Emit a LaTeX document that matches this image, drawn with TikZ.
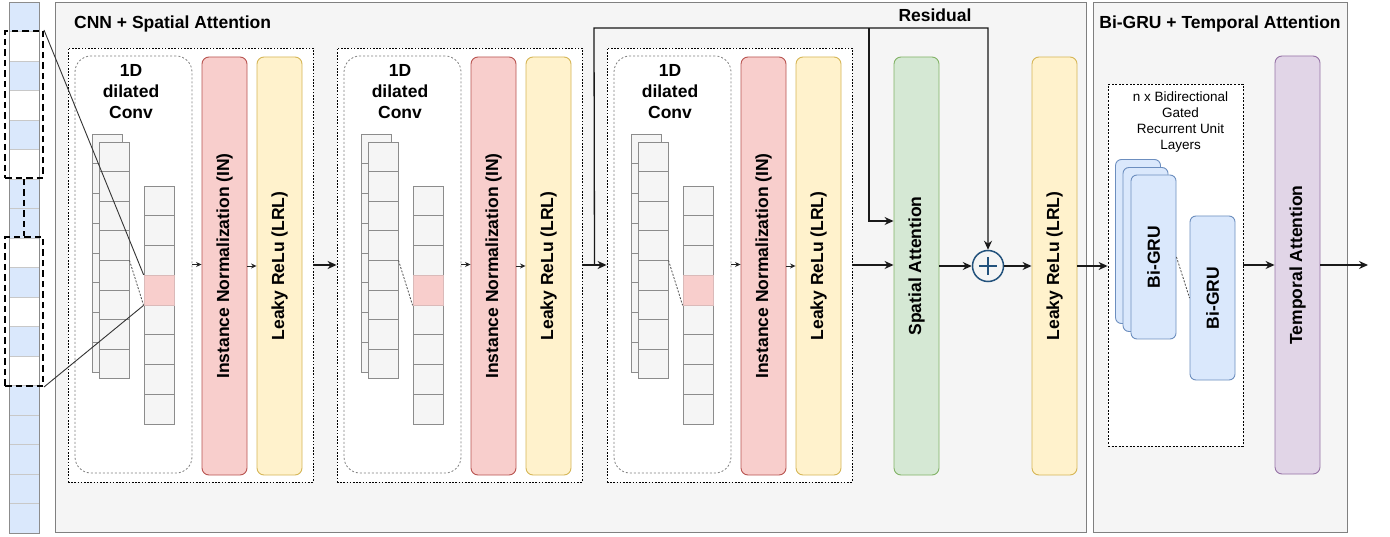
\documentclass[tikz,border=0pt]{standalone}
\usepackage{fontspec}
\setmainfont{Liberation Sans}
\usepackage{xcolor}
\usepackage{graphicx}
\usepackage{tikz}
\usetikzlibrary{positioning}
\usetikzlibrary{arrows.meta}
\usetikzlibrary{calc}

\newcommand{\boxfont}{\fontsize{17.5}{21}\selectfont\bfseries}
\newcommand{\notefont}{\fontsize{13.5}{16.2}\selectfont}

\begin{document}
\begin{tikzpicture}
    [%%%%%%%%%%%%%%%%%%%%%%%%%%%%%%
        x=1pt, y=-1pt,
        panel/.style={rectangle,draw=panelline,fill=panelgray,line width=0.9pt,inner sep=0pt},
        blockbox/.style={rectangle,draw=black,fill=white,line width=0.8pt,dash pattern=on 1.6pt off 1.6pt,inner sep=0pt},
        convbox/.style={rectangle,rounded corners=16pt,draw=gray,fill=white,line width=0.8pt,dash pattern=on 2pt off 2pt,inner sep=0pt},
        boxtext/.style={inner sep=0pt,font=\boxfont},
        layer/.style={rectangle,rounded corners=7pt,line width=0.9pt,minimum width=45pt,minimum height=418pt,inner sep=0pt,font=\boxfont},
        inbox/.style={layer,draw=inredline,fill=inred},
        lrlbox/.style={layer,draw=lrlyelline,fill=lrlyel},
        sabox/.style={layer,draw=sagreenline,fill=sagreen},
        tabox/.style={layer,draw=tapurpleline,fill=tapurple},
        grulayer/.style={layer,minimum height=164pt,rounded corners=6pt,draw=grublueline,fill=grublue},
        grubox/.style={rectangle,draw=black,fill=white,line width=0.8pt,dash pattern=on 2pt off 1.6pt,inner sep=0pt},
        cell/.style={draw=cellline,fill=panelgray,line width=0.8pt},
        stripcell/.style={draw=stripdiv,line width=0.8pt},
        winbox/.style={rectangle,draw=black,line width=2pt,dash pattern=on 6.5pt off 4pt,inner sep=0pt},
        winline/.style={draw=black!80,line width=0.9pt},
        convdash/.style={draw=black!70,line width=0.8pt,dash pattern=on 2pt off 1.5pt},
        mainarrow/.style={draw=black!90,line width=1.3pt,-{Stealth[length=9pt,width=8pt]}},
        smallarrow/.style={draw=black!85,line width=0.9pt,-{Stealth[length=5.5pt,width=5pt]}},
        sumnode/.style={circle,draw=sumblue,line width=1.5pt,minimum size=31pt,inner sep=0pt}
    ]%%%%%%%%%%%%%%%%%%%%%%%%%%%%%%
\definecolor{panelgray}{HTML}{F5F5F5}
\definecolor{panelline}{HTML}{808080}
\definecolor{inred}{HTML}{F8CECC}
\definecolor{inredline}{HTML}{B85450}
\definecolor{lrlyel}{HTML}{FFF2CC}
\definecolor{lrlyelline}{HTML}{D6B656}
\definecolor{sagreen}{HTML}{D5E8D4}
\definecolor{sagreenline}{HTML}{82B366}
\definecolor{tapurple}{HTML}{E1D5E7}
\definecolor{tapurpleline}{HTML}{9673A6}
\definecolor{grublue}{HTML}{DAE8FC}
\definecolor{grublueline}{HTML}{6C8EBF}
\definecolor{stripblue}{HTML}{DAE8FC}
\definecolor{stripdiv}{HTML}{C8C8C8}
\definecolor{stripline}{HTML}{8C8C8C}
\definecolor{cellline}{HTML}{8C8C8C}
\definecolor{pinkcell}{HTML}{F8CECC}
\definecolor{sumblue}{HTML}{23527C}

\useasboundingbox (0,0) rectangle (1390,537);

% panels
\node[panel,minimum width=1031pt,minimum height=530pt] (cnnp) at (570.5,267) {};
\node[panel,minimum width=254pt,minimum height=530pt] (grup) at (1220,267) {};
\node[boxtext,anchor=west] (cnntitle) at (74,24) {CNN + Spatial Attention};
\node[boxtext] (grutitle) at (1220,24) {Bi-GRU + Temporal Attention};

% input sequence
\foreach \c [count=\k from 0] in {stripblue,white,stripblue,white,stripblue,white,stripblue,stripblue,white,stripblue,white,stripblue,white,stripblue,stripblue,stripblue,stripblue,stripblue}
   \draw[stripcell,fill=\c] (9,2+\k*29.5) rectangle ++(30,29.5);
\node[rectangle,draw=stripline,line width=0.9pt,minimum width=30pt,minimum height=531pt,inner sep=0pt] (strip) at (24,267.5) {};

% conv blocks
\foreach \b/\ox in {1/0,2/269,3/539}{
    \node[blockbox,minimum width=245pt,minimum height=434pt] (blk\b) at (190.5+\ox,265) {};
    \node[convbox,minimum width=117pt,minimum height=417pt] (conv\b) at (133.5+\ox,264.5) {};
    \node[boxtext,align=center] (ct\b) at (131+\ox,92) {1D\\dilated\\Conv};
    \foreach \k in {0,...,7}
        \draw[cell] (92+\ox,134+\k*29.75) rectangle ++(30,29.75);
    \foreach \k in {0,...,7}
        \draw[cell] (99.5+\ox,142+\k*29.6) rectangle ++(30,29.6);
    \foreach \k in {0,...,7}
        \draw[cell] (144+\ox,186+\k*29.75) rectangle ++(30,29.75);
    \node[rectangle,draw=pinkcell!75!gray,fill=pinkcell,line width=0.8pt,minimum width=30pt,minimum height=29.75pt,inner sep=0pt] (pk\b) at (159+\ox,290.1) {};
    \coordinate (fs\b) at (129.5+\ox,260.4);
    \draw[convdash] (fs\b) -- (pk\b.south west);
    \node[inbox] (in\b) at (224.5+\ox,266) {\rotatebox{90}{Instance Normalization (IN)}};
    \node[lrlbox] (lrl\b) at (279.5+\ox,266) {\rotatebox{90}{Leaky ReLu (LRL)}};
    \draw[smallarrow] (conv\b.east) -- (conv\b.east -| in\b.west);
    \draw[smallarrow] (in\b.east) -- (lrl\b.west);
}

% receptive field windows
\node[winbox,minimum width=38pt,minimum height=147pt] (win1) at (24,104.5) {};
\node[winbox,minimum width=38pt,minimum height=149pt] (win2) at (24,311.5) {};
\draw[winbox] (win1.south) -- (win2.north);
\draw[winline] (win1.north east) -- (pk1.north west);
\draw[winline] (win2.south east) -- (pk1.south west);

% spatial attention and residual
\node[sabox] (sa) at (916.5,266) {\rotatebox{90}{Spatial Attention}};
\node[sumnode] (sum) at (988,266) {};
\draw[sumblue,line width=1.5pt] ([xshift=-9pt]sum.center) -- ([xshift=9pt]sum.center);
\draw[sumblue,line width=1.5pt] ([yshift=-9pt]sum.center) -- ([yshift=9pt]sum.center);
\node[lrlbox] (lrl4) at (1054.5,266) {\rotatebox{90}{Leaky ReLu (LRL)}};

\draw[mainarrow] (blk1.east) -- (blk2.west);
\draw[mainarrow] (blk2.east) -- (blk3.west);
\coordinate (res) at ($(blk2.east)!0.5!(blk3.west)$);
\coordinate (rtop) at (594,28);
\coordinate (rbr) at (869,28);
\draw[mainarrow] (res) -- (rtop) -| (sum.north);
\draw[mainarrow] (rbr) |- (sa.west |- 0,221);
\node[boxtext] (reslabel) at (935,15) {Residual};

\draw[mainarrow] (blk3.east) -- (blk3.east -| sa.west);
\draw[mainarrow] (sa.east) -- (sum.west);
\draw[mainarrow] (sum.east) -- (lrl4.west);

% bi-gru part
\node[grubox,minimum width=135pt,minimum height=362pt] (gbox) at (1175.5,265) {};
\node[inner sep=0pt,font=\notefont,align=center] (gtxt) at (1180.5,122) {n x Bidirectional\\Gated\\Recurrent Unit\\Layers};
\node[grulayer] (gru1) at (1138,241.5) {};
\node[grulayer] (gru2) at (1145.5,249.5) {};
\node[grulayer] (gru3) at (1153.5,257) {\rotatebox{90}{Bi-GRU}};
\node[grulayer] (gru4) at (1212.5,298) {\rotatebox{90}{Bi-GRU}};
\draw[convdash] (gru3.east) -- (gru4.west);

\node[tabox] (ta) at (1297.5,265) {\rotatebox{90}{Temporal Attention}};
\coordinate (out) at (1368,265);

\draw[mainarrow] (lrl4.east) -- (lrl4.east -| gbox.west);
\draw[mainarrow] (gbox.east) -- (gbox.east -| ta.west);
\draw[mainarrow] (ta.east) -- (out);

\end{tikzpicture}
\end{document}
